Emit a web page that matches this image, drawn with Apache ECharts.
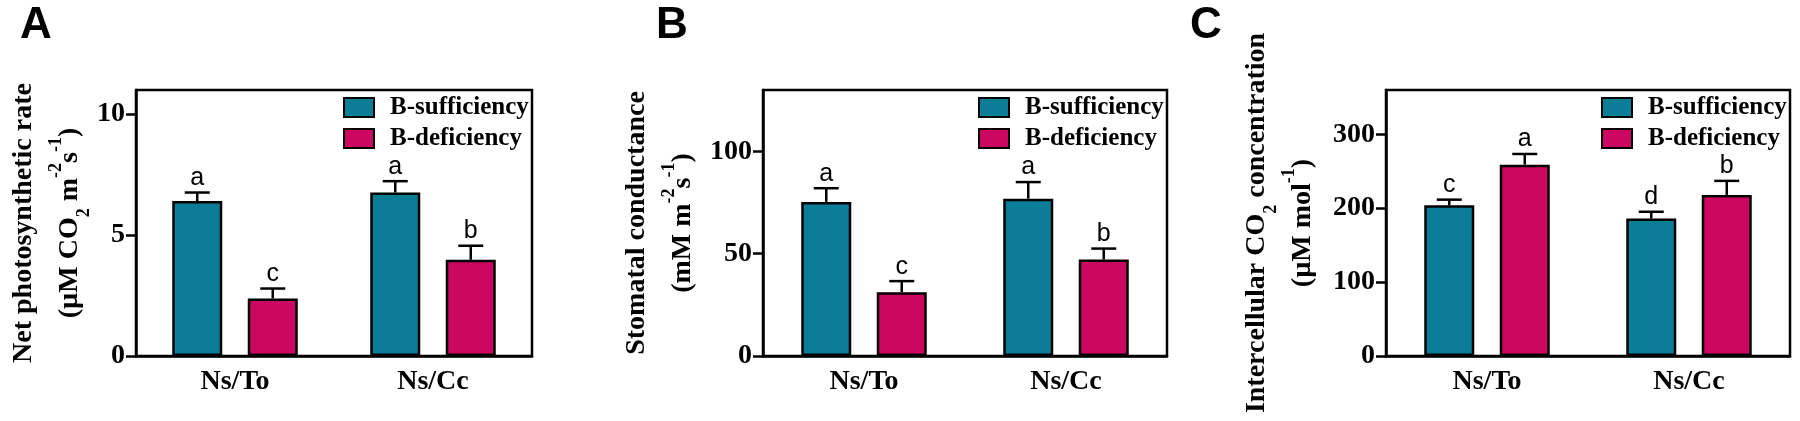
<!DOCTYPE html>
<html>
<head>
<meta charset="utf-8">
<title>B-sufficiency / B-deficiency</title>
<script src="https://cdn.jsdelivr.net/npm/echarts@6.0.0/dist/echarts.min.js"></script>
<style>
  html, body { margin: 0; padding: 0; background: #fff; }
  #main { width: 1800px; height: 421px; }
</style>
</head>
<body>
<div id="main"></div>
<script type="text/javascript">
    // categories and series names
    var categories = ['Ns/To', 'Ns/Cc'];
    var seriesNames = ['B-sufficiency', 'B-deficiency'];

    // A: net photosynthetic rate
    var rateSuff = [6.41, 6.76];
    var rateSuffSd = [0.35, 0.47];
    var rateDef = [2.38, 3.98];
    var rateDefSd = [0.41, 0.58];
    var rateSuffLetters = ['a', 'a'];
    var rateDefLetters = ['c', 'b'];
    var rateTicks = [0, 5, 10];
    var rateMax = 11;

    // B: stomatal conductance
    var condSuff = [75.3, 76.9];
    var condSuffSd = [6.7, 8.1];
    var condDef = [31.2, 47.2];
    var condDefSd = [5.4, 5.3];
    var condSuffLetters = ['a', 'a'];
    var condDefLetters = ['c', 'b'];
    var condTicks = [0, 50, 100];
    var condMax = 130;

    // C: intercellular CO2 concentration
    var ciSuff = [204, 186];
    var ciSuffSd = [7.6, 9.2];
    var ciDef = [259, 218];
    var ciDefSd = [14.4, 19];
    var ciSuffLetters = ['c', 'd'];
    var ciDefLetters = ['a', 'b'];
    var ciTicks = [0, 100, 200, 300];
    var ciMax = 360;

    var serif = 'Liberation Serif';
    var teal = '#0b7d97';
    var pink = '#cc0762';
    var BAR_W = 50;
    var GAP = 0.51;
    var LINE = 2.5;

    var titleStyle = {
      fontFamily: serif, fontWeight: 'bold', fontSize: 28, color: '#000', lineHeight: 46,
      rich: {
        sub: { fontFamily: serif, fontWeight: 'bold', fontSize: 18, lineHeight: 18, verticalAlign: 'bottom', color: '#000' },
        sup: { fontFamily: serif, fontWeight: 'bold', fontSize: 18, lineHeight: 18, verticalAlign: 'top', color: '#000' }
      }
    };

    var panels = [
      { letter: 'A', letterX: 20, left: 128, nameGap: 43,
        name: 'Net photosynthetic rate\n(µM CO{sub|2} m{sup|-2}s{sup|-1})',
        max: rateMax, ticks: rateTicks,
        suff: rateSuff, suffSd: rateSuffSd, suffL: rateSuffLetters,
        def: rateDef, defSd: rateDefSd, defL: rateDefLetters },
      { letter: 'B', letterX: 656, left: 763, nameGap: 55,
        name: 'Stomatal conductance\n(mM m{sup|-2}s{sup|-1})',
        max: condMax, ticks: condTicks,
        suff: condSuff, suffSd: condSuffSd, suffL: condSuffLetters,
        def: condDef, defSd: condDefSd, defL: condDefLetters },
      { letter: 'C', letterX: 1190, left: 1386, nameGap: 60,
        name: 'Intercellular CO{sub|2} concentration\n(µM mol{sup|-1})',
        max: ciMax, ticks: ciTicks,
        suff: ciSuff, suffSd: ciSuffSd, suffL: ciSuffLetters,
        def: ciDef, defSd: ciDefSd, defL: ciDefLetters }
    ];

    // error bar + significance letter, shifted onto its bar
    function errRender(side, letters) {
      return function (params, api) {
        var i = api.value(0), v = api.value(1), sd = api.value(2);
        var off = side * BAR_W * (1 + GAP) / 2;
        var base = api.coord([i, v]);
        var top = api.coord([i, v + sd]);
        var x = base[0] + off;
        return {
          type: 'group',
          children: [
            { type: 'line', shape: { x1: x, y1: base[1], x2: x, y2: top[1] }, style: { stroke: '#000', lineWidth: LINE } },
            { type: 'line', shape: { x1: x - 12.5, y1: top[1], x2: x + 12.5, y2: top[1] }, style: { stroke: '#000', lineWidth: LINE } },
            { type: 'text', x: x, y: top[1] - 2,
              style: { text: letters[params.dataIndex], font: '25px "Liberation Sans"', fill: '#000', align: 'center', verticalAlign: 'bottom' } }
          ]
        };
      };
    }

    function errData(means, sds) {
      return means.map(function (m, i) { return [i, m, sds[i]]; });
    }

    var option = { animation: false, backgroundColor: '#fff', grid: [], xAxis: [], yAxis: [], legend: [], series: [], graphic: [] };

    panels.forEach(function (p, k) {
      option.grid.push({ left: p.left, top: 90, width: 404, height: 266, show: true, borderColor: '#000', borderWidth: LINE });
      option.xAxis.push({
        gridIndex: k, type: 'category', data: categories,
        axisLine: { lineStyle: { color: '#000', width: LINE } },
        axisTick: { alignWithLabel: true, length: 9, lineStyle: { color: '#000', width: LINE } },
        axisLabel: { interval: 0, margin: 12, color: '#000', fontFamily: serif, fontWeight: 'bold', fontSize: 28 }
      });
      option.yAxis.push({
        gridIndex: k, type: 'value', min: 0, max: p.max,
        name: p.name, nameLocation: 'middle', nameRotate: 90, nameGap: p.nameGap, nameTextStyle: titleStyle,
        splitLine: { show: false },
        axisLine: { show: true, lineStyle: { color: '#000', width: LINE } },
        axisTick: { show: true, length: 10, customValues: p.ticks, lineStyle: { color: '#000', width: LINE } },
        axisLabel: { customValues: p.ticks, margin: 11, color: '#000', fontFamily: serif, fontWeight: 'bold', fontSize: 28 }
      });
      option.legend.push({
        data: seriesNames, orient: 'vertical', left: p.left + 404 - 194, top: 90,
        itemWidth: 30, itemHeight: 19, itemGap: 6, icon: 'rect', selectedMode: false,
        textStyle: { fontFamily: serif, fontWeight: 'bold', fontSize: 25, color: '#000', padding: [0, 0, 0, 11] }
      });
      option.series.push(
        { name: seriesNames[0], type: 'bar', xAxisIndex: k, yAxisIndex: k, data: p.suff, barWidth: BAR_W, barGap: (GAP * 100) + '%',
          itemStyle: { color: teal, borderColor: '#000', borderWidth: LINE } },
        { name: seriesNames[1], type: 'bar', xAxisIndex: k, yAxisIndex: k, data: p.def, barWidth: BAR_W, barGap: (GAP * 100) + '%',
          itemStyle: { color: pink, borderColor: '#000', borderWidth: LINE } },
        { type: 'custom', xAxisIndex: k, yAxisIndex: k, z: 5, encode: { x: 0, y: 1 },
          data: errData(p.suff, p.suffSd), renderItem: errRender(-1, p.suffL) },
        { type: 'custom', xAxisIndex: k, yAxisIndex: k, z: 5, encode: { x: 0, y: 1 },
          data: errData(p.def, p.defSd), renderItem: errRender(1, p.defL) }
      );
      option.graphic.push({ type: 'text', left: p.letterX, top: 4,
        style: { text: p.letter, font: 'bold 44px "Liberation Sans"', fill: '#000' } });
    });

    var chart = echarts.init(document.getElementById('main'));
    chart.setOption(option);
</script>
</body>
</html>
